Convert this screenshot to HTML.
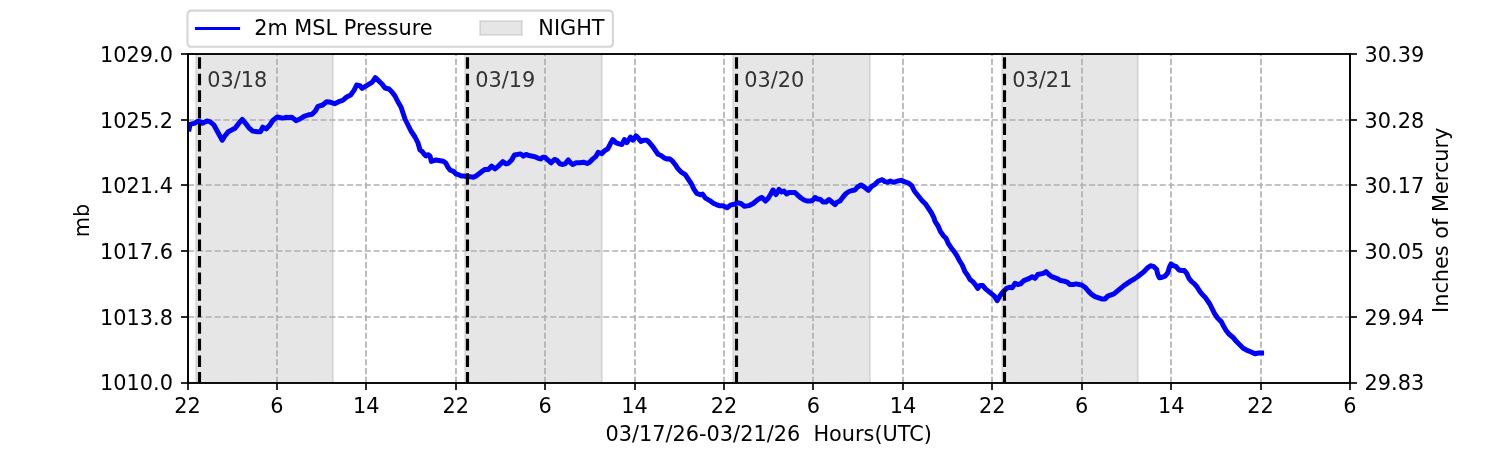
<!DOCTYPE html>
<html><head><meta charset="utf-8"><title>2m MSL Pressure</title>
<style>html,body{margin:0;padding:0;background:#fff;width:1500px;height:450px;overflow:hidden}svg{display:block;will-change:transform}text{white-space:pre}</style>
</head><body>
<svg width="1500" height="450" viewBox="0 0 720 216" version="1.1">
<defs>
<style type="text/css">*{stroke-linejoin: round; stroke-linecap: butt}</style>
</defs>
<g id="figure_1">
<g id="patch_1">
<path d="M 0 216 L 720 216 L 720 0 L 0 0 z" style="fill: #ffffff"/>
</g>
<g id="axes_1">
<g id="patch_2">
<path d="M 90.24 183.84 L 648 183.84 L 648 25.92 L 90.24 25.92 z" style="fill: #ffffff"/>
</g>
<g id="patch_3">
<path d="M 94.08 183.84 L 159.84 183.84 L 159.84 25.92 L 94.08 25.92 z" clip-path="url(#pb94ecb44f5)" style="fill: #808080; fill-opacity: 0.2; stroke: #808080; stroke-opacity: 0.2; stroke-linejoin: miter"/>
</g>
<g id="patch_4">
<path d="M 223.2 183.84 L 288.96 183.84 L 288.96 25.92 L 223.2 25.92 z" clip-path="url(#pb94ecb44f5)" style="fill: #808080; fill-opacity: 0.2; stroke: #808080; stroke-opacity: 0.2; stroke-linejoin: miter"/>
</g>
<g id="patch_5">
<path d="M 351.84 183.84 L 417.6 183.84 L 417.6 25.92 L 351.84 25.92 z" clip-path="url(#pb94ecb44f5)" style="fill: #808080; fill-opacity: 0.2; stroke: #808080; stroke-opacity: 0.2; stroke-linejoin: miter"/>
</g>
<g id="patch_6">
<path d="M 480.96 183.84 L 546.24 183.84 L 546.24 25.92 L 480.96 25.92 z" clip-path="url(#pb94ecb44f5)" style="fill: #808080; fill-opacity: 0.2; stroke: #808080; stroke-opacity: 0.2; stroke-linejoin: miter"/>
</g>
<g id="matplotlib.axis_1">
<g id="xtick_1">
<g id="line2d_1">
<path d="M 90.24 183.84 L 90.24 25.92" clip-path="url(#pb94ecb44f5)" style="fill: none; stroke-dasharray: 2.96,1.28; stroke-dashoffset: 0; stroke: #b0b0b0; stroke-width: 0.8"/>
</g>
<g id="line2d_2">
<defs>
<path id="m1504cfccaf" d="M 0 0 L 0 3.36" style="stroke: #000000; stroke-width: 0.8"/>
</defs>
<g>
<use href="#m1504cfccaf" x="90.24" y="183.84" style="stroke: #000000; stroke-width: 0.8"/>
</g>
</g>
<g id="text_1">
<text style="font-size: 10px; font-family: 'DejaVu Sans', 'Liberation Sans', sans-serif; text-anchor: middle" x="90" y="198.198438" transform="rotate(-0 90 198.198438)">22</text>
</g>
</g>
<g id="xtick_2">
<g id="line2d_3">
<path d="M 132.96 183.84 L 132.96 25.92" clip-path="url(#pb94ecb44f5)" style="fill: none; stroke-dasharray: 2.96,1.28; stroke-dashoffset: 0; stroke: #b0b0b0; stroke-width: 0.8"/>
</g>
<g id="line2d_4">
<g>
<use href="#m1504cfccaf" x="132.96" y="183.84" style="stroke: #000000; stroke-width: 0.8"/>
</g>
</g>
<g id="text_2">
<text style="font-size: 10px; font-family: 'DejaVu Sans', 'Liberation Sans', sans-serif; text-anchor: middle" x="132.923077" y="198.198438" transform="rotate(-0 132.923077 198.198438)">6</text>
</g>
</g>
<g id="xtick_3">
<g id="line2d_5">
<path d="M 175.68 183.84 L 175.68 25.92" clip-path="url(#pb94ecb44f5)" style="fill: none; stroke-dasharray: 2.96,1.28; stroke-dashoffset: 0; stroke: #b0b0b0; stroke-width: 0.8"/>
</g>
<g id="line2d_6">
<g>
<use href="#m1504cfccaf" x="175.68" y="183.84" style="stroke: #000000; stroke-width: 0.8"/>
</g>
</g>
<g id="text_3">
<text style="font-size: 10px; font-family: 'DejaVu Sans', 'Liberation Sans', sans-serif; text-anchor: middle" x="175.846154" y="198.198438" transform="rotate(-0 175.846154 198.198438)">14</text>
</g>
</g>
<g id="xtick_4">
<g id="line2d_7">
<path d="M 218.88 183.84 L 218.88 25.92" clip-path="url(#pb94ecb44f5)" style="fill: none; stroke-dasharray: 2.96,1.28; stroke-dashoffset: 0; stroke: #b0b0b0; stroke-width: 0.8"/>
</g>
<g id="line2d_8">
<g>
<use href="#m1504cfccaf" x="218.88" y="183.84" style="stroke: #000000; stroke-width: 0.8"/>
</g>
</g>
<g id="text_4">
<text style="font-size: 10px; font-family: 'DejaVu Sans', 'Liberation Sans', sans-serif; text-anchor: middle" x="218.769231" y="198.198438" transform="rotate(-0 218.769231 198.198438)">22</text>
</g>
</g>
<g id="xtick_5">
<g id="line2d_9">
<path d="M 261.6 183.84 L 261.6 25.92" clip-path="url(#pb94ecb44f5)" style="fill: none; stroke-dasharray: 2.96,1.28; stroke-dashoffset: 0; stroke: #b0b0b0; stroke-width: 0.8"/>
</g>
<g id="line2d_10">
<g>
<use href="#m1504cfccaf" x="261.6" y="183.84" style="stroke: #000000; stroke-width: 0.8"/>
</g>
</g>
<g id="text_5">
<text style="font-size: 10px; font-family: 'DejaVu Sans', 'Liberation Sans', sans-serif; text-anchor: middle" x="261.692308" y="198.198438" transform="rotate(-0 261.692308 198.198438)">6</text>
</g>
</g>
<g id="xtick_6">
<g id="line2d_11">
<path d="M 304.8 183.84 L 304.8 25.92" clip-path="url(#pb94ecb44f5)" style="fill: none; stroke-dasharray: 2.96,1.28; stroke-dashoffset: 0; stroke: #b0b0b0; stroke-width: 0.8"/>
</g>
<g id="line2d_12">
<g>
<use href="#m1504cfccaf" x="304.8" y="183.84" style="stroke: #000000; stroke-width: 0.8"/>
</g>
</g>
<g id="text_6">
<text style="font-size: 10px; font-family: 'DejaVu Sans', 'Liberation Sans', sans-serif; text-anchor: middle" x="304.615385" y="198.198438" transform="rotate(-0 304.615385 198.198438)">14</text>
</g>
</g>
<g id="xtick_7">
<g id="line2d_13">
<path d="M 347.52 183.84 L 347.52 25.92" clip-path="url(#pb94ecb44f5)" style="fill: none; stroke-dasharray: 2.96,1.28; stroke-dashoffset: 0; stroke: #b0b0b0; stroke-width: 0.8"/>
</g>
<g id="line2d_14">
<g>
<use href="#m1504cfccaf" x="347.52" y="183.84" style="stroke: #000000; stroke-width: 0.8"/>
</g>
</g>
<g id="text_7">
<text style="font-size: 10px; font-family: 'DejaVu Sans', 'Liberation Sans', sans-serif; text-anchor: middle" x="347.538462" y="198.198438" transform="rotate(-0 347.538462 198.198438)">22</text>
</g>
</g>
<g id="xtick_8">
<g id="line2d_15">
<path d="M 390.24 183.84 L 390.24 25.92" clip-path="url(#pb94ecb44f5)" style="fill: none; stroke-dasharray: 2.96,1.28; stroke-dashoffset: 0; stroke: #b0b0b0; stroke-width: 0.8"/>
</g>
<g id="line2d_16">
<g>
<use href="#m1504cfccaf" x="390.24" y="183.84" style="stroke: #000000; stroke-width: 0.8"/>
</g>
</g>
<g id="text_8">
<text style="font-size: 10px; font-family: 'DejaVu Sans', 'Liberation Sans', sans-serif; text-anchor: middle" x="390.461538" y="198.198438" transform="rotate(-0 390.461538 198.198438)">6</text>
</g>
</g>
<g id="xtick_9">
<g id="line2d_17">
<path d="M 433.44 183.84 L 433.44 25.92" clip-path="url(#pb94ecb44f5)" style="fill: none; stroke-dasharray: 2.96,1.28; stroke-dashoffset: 0; stroke: #b0b0b0; stroke-width: 0.8"/>
</g>
<g id="line2d_18">
<g>
<use href="#m1504cfccaf" x="433.44" y="183.84" style="stroke: #000000; stroke-width: 0.8"/>
</g>
</g>
<g id="text_9">
<text style="font-size: 10px; font-family: 'DejaVu Sans', 'Liberation Sans', sans-serif; text-anchor: middle" x="433.384615" y="198.198438" transform="rotate(-0 433.384615 198.198438)">14</text>
</g>
</g>
<g id="xtick_10">
<g id="line2d_19">
<path d="M 476.16 183.84 L 476.16 25.92" clip-path="url(#pb94ecb44f5)" style="fill: none; stroke-dasharray: 2.96,1.28; stroke-dashoffset: 0; stroke: #b0b0b0; stroke-width: 0.8"/>
</g>
<g id="line2d_20">
<g>
<use href="#m1504cfccaf" x="476.16" y="183.84" style="stroke: #000000; stroke-width: 0.8"/>
</g>
</g>
<g id="text_10">
<text style="font-size: 10px; font-family: 'DejaVu Sans', 'Liberation Sans', sans-serif; text-anchor: middle" x="476.307692" y="198.198438" transform="rotate(-0 476.307692 198.198438)">22</text>
</g>
</g>
<g id="xtick_11">
<g id="line2d_21">
<path d="M 519.36 183.84 L 519.36 25.92" clip-path="url(#pb94ecb44f5)" style="fill: none; stroke-dasharray: 2.96,1.28; stroke-dashoffset: 0; stroke: #b0b0b0; stroke-width: 0.8"/>
</g>
<g id="line2d_22">
<g>
<use href="#m1504cfccaf" x="519.36" y="183.84" style="stroke: #000000; stroke-width: 0.8"/>
</g>
</g>
<g id="text_11">
<text style="font-size: 10px; font-family: 'DejaVu Sans', 'Liberation Sans', sans-serif; text-anchor: middle" x="519.230769" y="198.198438" transform="rotate(-0 519.230769 198.198438)">6</text>
</g>
</g>
<g id="xtick_12">
<g id="line2d_23">
<path d="M 562.08 183.84 L 562.08 25.92" clip-path="url(#pb94ecb44f5)" style="fill: none; stroke-dasharray: 2.96,1.28; stroke-dashoffset: 0; stroke: #b0b0b0; stroke-width: 0.8"/>
</g>
<g id="line2d_24">
<g>
<use href="#m1504cfccaf" x="562.08" y="183.84" style="stroke: #000000; stroke-width: 0.8"/>
</g>
</g>
<g id="text_12">
<text style="font-size: 10px; font-family: 'DejaVu Sans', 'Liberation Sans', sans-serif; text-anchor: middle" x="562.153846" y="198.198438" transform="rotate(-0 562.153846 198.198438)">14</text>
</g>
</g>
<g id="xtick_13">
<g id="line2d_25">
<path d="M 605.28 183.84 L 605.28 25.92" clip-path="url(#pb94ecb44f5)" style="fill: none; stroke-dasharray: 2.96,1.28; stroke-dashoffset: 0; stroke: #b0b0b0; stroke-width: 0.8"/>
</g>
<g id="line2d_26">
<g>
<use href="#m1504cfccaf" x="605.28" y="183.84" style="stroke: #000000; stroke-width: 0.8"/>
</g>
</g>
<g id="text_13">
<text style="font-size: 10px; font-family: 'DejaVu Sans', 'Liberation Sans', sans-serif; text-anchor: middle" x="605.076923" y="198.198438" transform="rotate(-0 605.076923 198.198438)">22</text>
</g>
</g>
<g id="xtick_14">
<g id="line2d_27">
<path d="M 648 183.84 L 648 25.92" clip-path="url(#pb94ecb44f5)" style="fill: none; stroke-dasharray: 2.96,1.28; stroke-dashoffset: 0; stroke: #b0b0b0; stroke-width: 0.8"/>
</g>
<g id="line2d_28">
<g>
<use href="#m1504cfccaf" x="648" y="183.84" style="stroke: #000000; stroke-width: 0.8"/>
</g>
</g>
<g id="text_14">
<text style="font-size: 10px; font-family: 'DejaVu Sans', 'Liberation Sans', sans-serif; text-anchor: middle" x="648" y="198.198438" transform="rotate(-0 648 198.198438)">6</text>
</g>
</g>
<g id="text_15">
<text style="font-size: 10px; font-family: 'DejaVu Sans', 'Liberation Sans', sans-serif; text-anchor: middle" x="369" y="211.876563" transform="rotate(-0 369 211.876563)">03/17/26-03/21/26  Hours(UTC)</text>
</g>
</g>
<g id="matplotlib.axis_2">
<g id="ytick_1">
<g id="line2d_29">
<path d="M 90.24 183.84 L 648 183.84" clip-path="url(#pb94ecb44f5)" style="fill: none; stroke-dasharray: 2.96,1.28; stroke-dashoffset: 0; stroke: #b0b0b0; stroke-width: 0.8"/>
</g>
<g id="line2d_30">
<defs>
<path id="m5d545ce8f8" d="M 0 0 L -3.36 0" style="stroke: #000000; stroke-width: 0.8"/>
</defs>
<g>
<use href="#m5d545ce8f8" x="90.24" y="183.84" style="stroke: #000000; stroke-width: 0.8"/>
</g>
</g>
<g id="text_16">
<text style="font-size: 10px; font-family: 'DejaVu Sans', 'Liberation Sans', sans-serif; text-anchor: end" x="83" y="187.399219" transform="rotate(-0 83 187.399219)">1010.0</text>
</g>
</g>
<g id="ytick_2">
<g id="line2d_31">
<path d="M 90.24 152.16 L 648 152.16" clip-path="url(#pb94ecb44f5)" style="fill: none; stroke-dasharray: 2.96,1.28; stroke-dashoffset: 0; stroke: #b0b0b0; stroke-width: 0.8"/>
</g>
<g id="line2d_32">
<g>
<use href="#m5d545ce8f8" x="90.24" y="152.16" style="stroke: #000000; stroke-width: 0.8"/>
</g>
</g>
<g id="text_17">
<text style="font-size: 10px; font-family: 'DejaVu Sans', 'Liberation Sans', sans-serif; text-anchor: end" x="83" y="155.863219" transform="rotate(-0 83 155.863219)">1013.8</text>
</g>
</g>
<g id="ytick_3">
<g id="line2d_33">
<path d="M 90.24 120.48 L 648 120.48" clip-path="url(#pb94ecb44f5)" style="fill: none; stroke-dasharray: 2.96,1.28; stroke-dashoffset: 0; stroke: #b0b0b0; stroke-width: 0.8"/>
</g>
<g id="line2d_34">
<g>
<use href="#m5d545ce8f8" x="90.24" y="120.48" style="stroke: #000000; stroke-width: 0.8"/>
</g>
</g>
<g id="text_18">
<text style="font-size: 10px; font-family: 'DejaVu Sans', 'Liberation Sans', sans-serif; text-anchor: end" x="83" y="124.327219" transform="rotate(-0 83 124.327219)">1017.6</text>
</g>
</g>
<g id="ytick_4">
<g id="line2d_35">
<path d="M 90.24 88.8 L 648 88.8" clip-path="url(#pb94ecb44f5)" style="fill: none; stroke-dasharray: 2.96,1.28; stroke-dashoffset: 0; stroke: #b0b0b0; stroke-width: 0.8"/>
</g>
<g id="line2d_36">
<g>
<use href="#m5d545ce8f8" x="90.24" y="88.8" style="stroke: #000000; stroke-width: 0.8"/>
</g>
</g>
<g id="text_19">
<text style="font-size: 10px; font-family: 'DejaVu Sans', 'Liberation Sans', sans-serif; text-anchor: end" x="83" y="92.791219" transform="rotate(-0 83 92.791219)">1021.4</text>
</g>
</g>
<g id="ytick_5">
<g id="line2d_37">
<path d="M 90.24 57.6 L 648 57.6" clip-path="url(#pb94ecb44f5)" style="fill: none; stroke-dasharray: 2.96,1.28; stroke-dashoffset: 0; stroke: #b0b0b0; stroke-width: 0.8"/>
</g>
<g id="line2d_38">
<g>
<use href="#m5d545ce8f8" x="90.24" y="57.6" style="stroke: #000000; stroke-width: 0.8"/>
</g>
</g>
<g id="text_20">
<text style="font-size: 10px; font-family: 'DejaVu Sans', 'Liberation Sans', sans-serif; text-anchor: end" x="83" y="61.255219" transform="rotate(-0 83 61.255219)">1025.2</text>
</g>
</g>
<g id="ytick_6">
<g id="line2d_39">
<path d="M 90.24 25.92 L 648 25.92" clip-path="url(#pb94ecb44f5)" style="fill: none; stroke-dasharray: 2.96,1.28; stroke-dashoffset: 0; stroke: #b0b0b0; stroke-width: 0.8"/>
</g>
<g id="line2d_40">
<g>
<use href="#m5d545ce8f8" x="90.24" y="25.92" style="stroke: #000000; stroke-width: 0.8"/>
</g>
</g>
<g id="text_21">
<text style="font-size: 10px; font-family: 'DejaVu Sans', 'Liberation Sans', sans-serif; text-anchor: end" x="83" y="29.719219" transform="rotate(-0 83 29.719219)">1029.0</text>
</g>
</g>
<g id="text_22">
<text style="font-size: 10px; font-family: 'DejaVu Sans', 'Liberation Sans', sans-serif; text-anchor: middle" x="41.929688" y="104.76" transform="translate(0.96 1.104) rotate(-90 41.929688 104.76)">mb</text>
</g>
</g>
<g id="line2d_41">
<path d="M 90.7824 61.92
L 91.296 59.5824
L 93.2784 59.1984
L 94.8816 58.2384
L 95.6784 58.3056
L 97.1184 59.1984
L 99.36 58.08
L 100.6416 58.4016
L 101.6016 59.04
L 102.6672 60
L 106.6656 67.3056
L 108 65.1744
L 109.5984 63.2016
L 112.8 61.5984
L 114.3984 59.4672
L 116.2656 57.3312
L 117.8688 59.1984
L 119.4672 61.3344
L 121.3344 62.9328
L 123.4656 63.2016
L 125.0688 63.2016
L 126.1344 61.0656
L 127.7328 61.8672
L 129.3312 60.2688
L 130.9344 57.8688
L 133.0656 56.16
L 135.7344 56.6928
L 136.8 56.5344
L 137.28 56.2896
L 138.24 56.352
L 140.16 56.2896
L 142.08 57.9504
L 144 57.12
L 145.92 55.8384
L 147.84 55.2
L 149.76 54.8784
L 151.3584 53.28
L 152.64 51.0384
L 154.8816 50.4
L 156.8016 48.8016
L 158.7216 49.1184
L 160.6416 49.7616
L 162.5616 48.8016
L 164.4816 48.1584
L 166.4016 46.56
L 168.3216 45.6
L 169.92 43.3584
L 171.2016 40.8
L 172.8 41.1216
L 173.76 42.3984
L 178.56 39.5184
L 180.1584 37.2816
L 183.36 40.32
L 184.8 42.24
L 186.72 42.72
L 188.16 44.16
L 189.6 46.08
L 191.04 48.96
L 192.48 51.36
L 194.4 57.12
L 197.28 62.88
L 199.2 65.76
L 200.64 68.64
L 201.6 72
L 202.56 72.6384
L 203.52 73.92
L 204.48 74.88
L 205.44 74.2416
L 206.4 74.88
L 207.0384 77.4384
L 209.28 76.8
L 212.7984 77.4384
L 214.08 78.3984
L 215.04 80.3184
L 216 81.6
L 217.5984 82.2384
L 218.88 83.52
L 220.1616 83.8416
L 221.4384 84.48
L 222.72 84.48
L 224.0016 84.8016
L 225.6 84.8016
L 227.1984 85.1184
L 228.48 84.48
L 231.2016 82.4016
L 232.8 81.3312
L 234.3984 81.3312
L 236.0016 79.7328
L 237.6 81.0672
L 239.1984 79.7328
L 241.3344 77.6016
L 242.9328 78.6672
L 243.9984 78.3984
L 245.6016 76.8
L 246.9312 74.4
L 249.8688 73.8672
L 251.1984 74.9328
L 252.5328 74.1312
L 253.8672 74.6688
L 256.8 75.2016
L 258.3984 75.9984
L 259.4688 76.2672
L 260.5344 75.4656
L 261.6 75.4656
L 262.6656 76.5312
L 264.5328 78.1344
L 266.1312 76.5312
L 267.4656 77.0688
L 268.8 78.6672
L 270.1344 78.9312
L 271.2 78.6672
L 272.7984 76.8
L 273.8688 78.1344
L 274.9344 78.9312
L 276.5328 78.1392
L 278.2944 78.1392
L 280.056 77.8464
L 281.8128 78.432
L 282.9888 77.8464
L 284.4576 76.3776
L 285.9216 75.2016
L 287.0976 73.152
L 288.8544 73.7376
L 290.3232 72.2688
L 291.792 71.3904
L 292.9632 69.0432
L 294.1392 66.9888
L 295.6032 68.4576
L 297.072 69.0432
L 298.5408 69.336
L 299.712 66.9888
L 300.888 68.4576
L 302.6448 65.8128
L 303.8208 67.2816
L 305.2848 65.2272
L 306.4608 66.4032
L 307.632 67.8672
L 309.1008 67.2816
L 310.5696 67.2816
L 311.7408 68.4576
L 313.2096 70.2144
L 315.8496 74.0304
L 317.3184 74.616
L 318.7824 75.792
L 320.2512 76.3776
L 321.2832 76.1616
L 322.6704 77.2032
L 324.0576 78.936
L 325.4448 81.0192
L 327.1776 82.752
L 328.9104 83.7936
L 331.6848 87.9552
L 333.072 90.7296
L 334.4592 92.808
L 336.192 93.504
L 337.2336 93.1584
L 338.6208 95.0976
L 340.704 96.2784
L 342.4368 97.5264
L 343.824 98.2176
L 345.2112 98.7072
L 346.944 98.7072
L 349.0272 99.744
L 350.76 98.3568
L 352.4928 98.0112
L 353.88 97.32
L 355.6176 97.6656
L 357.3504 99.0528
L 359.4336 98.7072
L 361.512 97.6656
L 363.5952 95.9328
L 365.328 94.8912
L 365.76 94.8
L 367.44 96.48
L 368.64 95.28
L 369.84 93.36
L 371.04 91.2
L 372.48 93.36
L 373.92 90.96
L 375.12 92.16
L 376.32 91.68
L 377.52 93.12
L 378.72 92.4
L 381.6 92.4
L 383.04 93.84
L 384.48 95.04
L 385.92 96
L 387.36 96.48
L 388.8 96.48
L 390 96.24
L 391.2 94.8
L 392.4 95.52
L 393.84 95.76
L 395.04 96.96
L 396.48 96.96
L 397.92 95.76
L 400.8 98.256
L 401.76 97.056
L 403.2 96.48
L 404.64 94.56
L 406.08 92.88
L 407.52 91.92
L 408.96 91.44
L 410.4 91.2
L 411.6 89.76
L 413.28 88.8
L 414.8784 89.76
L 416.7984 91.3584
L 418.4016 89.4384
L 420 88.4784
L 421.5984 86.88
L 423.5184 86.2416
L 424.8 87.2016
L 426.0816 87.5184
L 427.3584 86.88
L 428.9616 87.5184
L 430.8816 86.88
L 432.48 86.5584
L 434.0784 87.2016
L 435.9984 87.84
L 437.6016 89.1216
L 438.8784 91.68
L 442.6416 96.3456
L 444.3744 98.0832
L 447.1488 102.2448
L 448.1904 104.3232
L 448.8816 106.4064
L 450.2688 108.4848
L 451.3104 110.9136
L 452.6976 112.992
L 454.0848 114.3792
L 455.1264 116.808
L 456.5136 118.8912
L 457.9008 120.624
L 459.288 122.7072
L 460.3296 124.7856
L 461.8656 127.2
L 463.2 130.4016
L 464.5344 132.2688
L 465.6 134.1312
L 466.9344 135.2016
L 468.2688 136.8
L 469.3344 138.3984
L 470.4 137.0688
L 471.7344 137.0688
L 473.0688 138.6672
L 477.3312 142.1328
L 478.6656 144.2688
L 479.7312 142.4016
L 481.0656 140.5344
L 483.2016 138.3984
L 484.5312 137.8656
L 485.8656 138.1344
L 487.2 135.9984
L 488.5344 136.5312
L 489.8688 136.2672
L 491.4672 134.6688
L 494.1312 133.5984
L 495.4656 132.8016
L 496.8 133.5984
L 498.1344 131.7312
L 500.7984 131.1984
L 502.1328 130.4016
L 503.4672 131.7312
L 504.8016 132.8016
L 507.7344 133.8672
L 509.0688 134.6688
L 510.6672 134.9328
L 512.2656 135.4656
L 513.6 136.5312
L 515.1984 136.5312
L 516.5328 136.2672
L 519.2016 136.8
L 520.8 137.8656
L 522.3984 139.7328
L 524.0016 141.3312
L 525.6 142.4016
L 528.8016 143.4672
L 530.4 143.4672
L 531.7344 142.1328
L 534.6672 141.0672
L 539.4672 137.0688
L 542.6688 134.9328
L 544.2672 134.0256
L 545.8656 132.96
L 549.0672 130.4544
L 550.6656 128.6928
L 552.2688 127.5744
L 553.8672 128.0016
L 555.2016 129.3312
L 555.7344 131.7312
L 556.5312 133.3344
L 557.8656 133.0656
L 559.2 132.5328
L 560.5344 130.9344
L 561.3312 128.2656
L 562.1328 126.6672
L 563.1984 127.4688
L 564.5328 128.0016
L 565.8672 129.6
L 567.2016 129.8688
L 568.5312 129.8688
L 569.6016 131.1984
L 570.6672 133.5984
L 572.0016 135.2016
L 573.3312 136.2672
L 574.6656 137.8656
L 576 140.0016
L 577.3344 141.6
L 578.6688 142.9344
L 580.6896 145.92
L 582.9312 150.3984
L 584.424 152.6352
L 586.2912 154.5024
L 587.4096 156.744
L 588.528 158.6112
L 590.0208 160.4736
L 591.888 161.9664
L 593.3808 163.8336
L 596.7408 167.1936
L 598.9824 168.312
L 600.8496 169.0608
L 602.3424 169.8048
L 604.2048 169.4352
L 605.5488 169.4352
L 605.5488 169.4352
" clip-path="url(#pb94ecb44f5)" style="fill: none; stroke: #0000ff; stroke-width: 2.4; stroke-linecap: square"/>
</g>
<g id="line2d_42">
<path d="M 95.76 184.08 L 95.76 26.16" clip-path="url(#pb94ecb44f5)" style="fill: none; stroke-dasharray: 5.55,2.4; stroke-dashoffset: 0; stroke: #000000; stroke-width: 1.5"/>
</g>
<g id="line2d_43">
<path d="M 224.4 184.08 L 224.4 26.16" clip-path="url(#pb94ecb44f5)" style="fill: none; stroke-dasharray: 5.55,2.4; stroke-dashoffset: 0; stroke: #000000; stroke-width: 1.5"/>
</g>
<g id="line2d_44">
<path d="M 353.52 184.08 L 353.52 26.16" clip-path="url(#pb94ecb44f5)" style="fill: none; stroke-dasharray: 5.55,2.4; stroke-dashoffset: 0; stroke: #000000; stroke-width: 1.5"/>
</g>
<g id="line2d_45">
<path d="M 482.16 184.08 L 482.16 26.16" clip-path="url(#pb94ecb44f5)" style="fill: none; stroke-dasharray: 5.55,2.4; stroke-dashoffset: 0; stroke: #000000; stroke-width: 1.5"/>
</g>
<g id="patch_7">
<path d="M 90.24 183.84 L 90.24 25.92" style="fill: none; stroke: #000000; stroke-width: 0.8; stroke-linejoin: miter; stroke-linecap: square"/>
</g>
<g id="patch_8">
<path d="M 648 183.84 L 648 25.92" style="fill: none; stroke: #000000; stroke-width: 0.8; stroke-linejoin: miter; stroke-linecap: square"/>
</g>
<g id="patch_9">
<path d="M 90.24 183.84 L 648 183.84" style="fill: none; stroke: #000000; stroke-width: 0.8; stroke-linejoin: miter; stroke-linecap: square"/>
</g>
<g id="patch_10">
<path d="M 90.24 25.92 L 648 25.92" style="fill: none; stroke: #000000; stroke-width: 0.8; stroke-linejoin: miter; stroke-linecap: square"/>
</g>
<g id="text_23">
<text style="font-size: 10px; font-family: 'DejaVu Sans', 'Liberation Sans', sans-serif; text-anchor: start; fill: #333333" x="99.812308" y="40.679375" transform="translate(-0.336 0.96) rotate(-0 99.812308 40.679375)">03/18</text>
</g>
<g id="text_24">
<text style="font-size: 10px; font-family: 'DejaVu Sans', 'Liberation Sans', sans-serif; text-anchor: start; fill: #333333" x="228.452308" y="40.679375" transform="translate(-0.336 0.96) rotate(-0 228.452308 40.679375)">03/19</text>
</g>
<g id="text_25">
<text style="font-size: 10px; font-family: 'DejaVu Sans', 'Liberation Sans', sans-serif; text-anchor: start; fill: #333333" x="357.572308" y="40.679375" transform="translate(-0.336 0.96) rotate(-0 357.572308 40.679375)">03/20</text>
</g>
<g id="text_26">
<text style="font-size: 10px; font-family: 'DejaVu Sans', 'Liberation Sans', sans-serif; text-anchor: start; fill: #333333" x="486.212308" y="40.679375" transform="translate(-0.336 0.96) rotate(-0 486.212308 40.679375)">03/21</text>
</g>
<g id="legend_1">
<g id="patch_11">
<path d="M 92 22.4784
L 292.20469 22.4784
Q 294.20469 22.4784 294.20469 20.4784
L 294.20469 7.08828
Q 294.20469 5.08828 292.20469 5.08828
L 92 5.08828
Q 90 5.08828 90 7.08828
L 90 20.4784
Q 90 22.4784 92 22.4784
z
" style="fill: #ffffff; opacity: 0.8; stroke: #cccccc; stroke-linejoin: miter"/>
</g>
<g id="line2d_46">
<path d="M 94.32 13.68 L 104.4 13.68 L 114.48 13.68" style="fill: none; stroke: #0000ff; stroke-width: 1.5; stroke-linecap: square"/>
</g>
<g id="text_27">
<text style="font-size: 10px; font-family: 'DejaVu Sans', 'Liberation Sans', sans-serif; text-anchor: start" x="122" y="16.686712" transform="rotate(-0 122 16.686712)">2m MSL Pressure</text>
</g>
<g id="patch_12">
<path d="M 230.4 16.8 L 250.56 16.8 L 250.56 10.08 L 230.4 10.08 z" style="fill: #808080; fill-opacity: 0.2; stroke: #808080; stroke-opacity: 0.2; stroke-linejoin: miter"/>
</g>
<g id="text_28">
<text style="font-size: 10px; font-family: 'DejaVu Sans', 'Liberation Sans', sans-serif; text-anchor: start" x="258.396875" y="16.686712" transform="rotate(-0 258.396875 16.686712)">NIGHT</text>
</g>
</g>
</g>
<g id="axes_2">
<g id="matplotlib.axis_3">
<g id="ytick_7">
<g id="line2d_47">
<defs>
<path id="m33c4ce201d" d="M 0 0 L 3.36 0" style="stroke: #000000; stroke-width: 0.8"/>
</defs>
<g>
<use href="#m33c4ce201d" x="648" y="183.84" style="stroke: #000000; stroke-width: 0.8"/>
</g>
</g>
<g id="text_29">
<text style="font-size: 10px; font-family: 'DejaVu Sans', 'Liberation Sans', sans-serif; text-anchor: start" x="655" y="187.399219" transform="rotate(-0 655 187.399219)">29.83</text>
</g>
</g>
<g id="ytick_8">
<g id="line2d_48">
<g>
<use href="#m33c4ce201d" x="648" y="152.16" style="stroke: #000000; stroke-width: 0.8"/>
</g>
</g>
<g id="text_30">
<text style="font-size: 10px; font-family: 'DejaVu Sans', 'Liberation Sans', sans-serif; text-anchor: start" x="655" y="155.863219" transform="rotate(-0 655 155.863219)">29.94</text>
</g>
</g>
<g id="ytick_9">
<g id="line2d_49">
<g>
<use href="#m33c4ce201d" x="648" y="120.48" style="stroke: #000000; stroke-width: 0.8"/>
</g>
</g>
<g id="text_31">
<text style="font-size: 10px; font-family: 'DejaVu Sans', 'Liberation Sans', sans-serif; text-anchor: start" x="655" y="124.327219" transform="rotate(-0 655 124.327219)">30.05</text>
</g>
</g>
<g id="ytick_10">
<g id="line2d_50">
<g>
<use href="#m33c4ce201d" x="648" y="88.8" style="stroke: #000000; stroke-width: 0.8"/>
</g>
</g>
<g id="text_32">
<text style="font-size: 10px; font-family: 'DejaVu Sans', 'Liberation Sans', sans-serif; text-anchor: start" x="655" y="92.791219" transform="rotate(-0 655 92.791219)">30.17</text>
</g>
</g>
<g id="ytick_11">
<g id="line2d_51">
<g>
<use href="#m33c4ce201d" x="648" y="57.6" style="stroke: #000000; stroke-width: 0.8"/>
</g>
</g>
<g id="text_33">
<text style="font-size: 10px; font-family: 'DejaVu Sans', 'Liberation Sans', sans-serif; text-anchor: start" x="655" y="61.255219" transform="rotate(-0 655 61.255219)">30.28</text>
</g>
</g>
<g id="ytick_12">
<g id="line2d_52">
<g>
<use href="#m33c4ce201d" x="648" y="25.92" style="stroke: #000000; stroke-width: 0.8"/>
</g>
</g>
<g id="text_34">
<text style="font-size: 10px; font-family: 'DejaVu Sans', 'Liberation Sans', sans-serif; text-anchor: start" x="655" y="29.719219" transform="rotate(-0 655 29.719219)">30.39</text>
</g>
</g>
<g id="text_35">
<text style="font-size: 10px; font-family: 'DejaVu Sans', 'Liberation Sans', sans-serif; text-anchor: middle" x="695.226562" y="104.76" transform="translate(0 0.96) rotate(-90 695.226562 104.76)">Inches of Mercury</text>
</g>
</g>
<g id="patch_13">
<path d="M 90.24 183.84 L 90.24 25.92" style="fill: none; stroke: #000000; stroke-width: 0.8; stroke-linejoin: miter; stroke-linecap: square"/>
</g>
<g id="patch_14">
<path d="M 648 183.84 L 648 25.92" style="fill: none; stroke: #000000; stroke-width: 0.8; stroke-linejoin: miter; stroke-linecap: square"/>
</g>
<g id="patch_15">
<path d="M 90.24 183.84 L 648 183.84" style="fill: none; stroke: #000000; stroke-width: 0.8; stroke-linejoin: miter; stroke-linecap: square"/>
</g>
<g id="patch_16">
<path d="M 90.24 25.92 L 648 25.92" style="fill: none; stroke: #000000; stroke-width: 0.8; stroke-linejoin: miter; stroke-linecap: square"/>
</g>
</g>
</g>
<defs>
<clipPath id="pb94ecb44f5">
<rect x="90.24" y="25.92" width="557.76" height="157.92"/>
</clipPath>
</defs>
</svg>

</body></html>
